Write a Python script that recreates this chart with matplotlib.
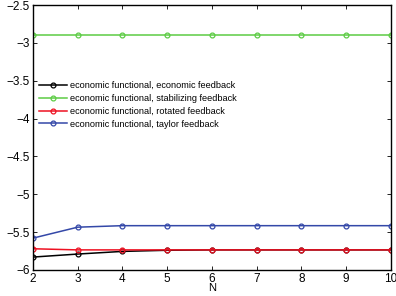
import matplotlib.pyplot as plt

plt.rcParams['font.family'] = ['Liberation Sans', 'DejaVu Sans']

N = [2, 3, 4, 5, 6, 7, 8, 9, 10]
econ = [-5.83, -5.79, -5.755, -5.74, -5.735, -5.735, -5.735, -5.735, -5.735]
stab = [-2.9, -2.9, -2.9, -2.9, -2.9, -2.9, -2.9, -2.9, -2.9]
rot = [-5.72, -5.735, -5.735, -5.735, -5.735, -5.735, -5.735, -5.735, -5.735]
taylor = [-5.58, -5.435, -5.415, -5.415, -5.415, -5.415, -5.415, -5.415, -5.415]

labels = ["economic functional, economic feedback",
          "economic functional, stabilizing feedback",
          "economic functional, rotated feedback",
          "economic functional, taylor feedback"]
colors = ["black", "#5ccc44", "#ee1122", "#3448a8"]

fig = plt.figure(figsize=(3.96, 2.96), dpi=100)
ax = fig.add_axes([0.083, 0.088, 0.904, 0.895])

for ys, lab, c in zip([econ, stab, rot, taylor], labels, colors):
    ax.plot(N, ys, color=c, lw=1.1, marker='o', ms=3.5, mfc='none', mew=0.9, label=lab)

ax.set_xlim(2, 10)
ax.set_ylim(-6, -2.5)
ax.set_xticks(N)
ax.set_yticks([-6, -5.5, -5, -4.5, -4, -3.5, -3, -2.5])
ax.set_yticklabels(['\u22126', '\u22125.5', '\u22125', '\u22124.5', '\u22124', '\u22123.5', '\u22123', '\u22122.5'])
ax.tick_params(direction='in', top=True, right=True, labelsize=8.5, length=3, width=0.6, pad=2)
for s in ax.spines.values():
    s.set_linewidth(1.0)
ax.set_xlabel('N', fontsize=8, labelpad=-1)

ax.legend(loc='upper left', bbox_to_anchor=(0.0, 0.737), frameon=False, fontsize=6.6,
          handlelength=3.0, handletextpad=0.4, labelspacing=0.42, borderaxespad=0.3)

fig.savefig('out.png', dpi=100)
